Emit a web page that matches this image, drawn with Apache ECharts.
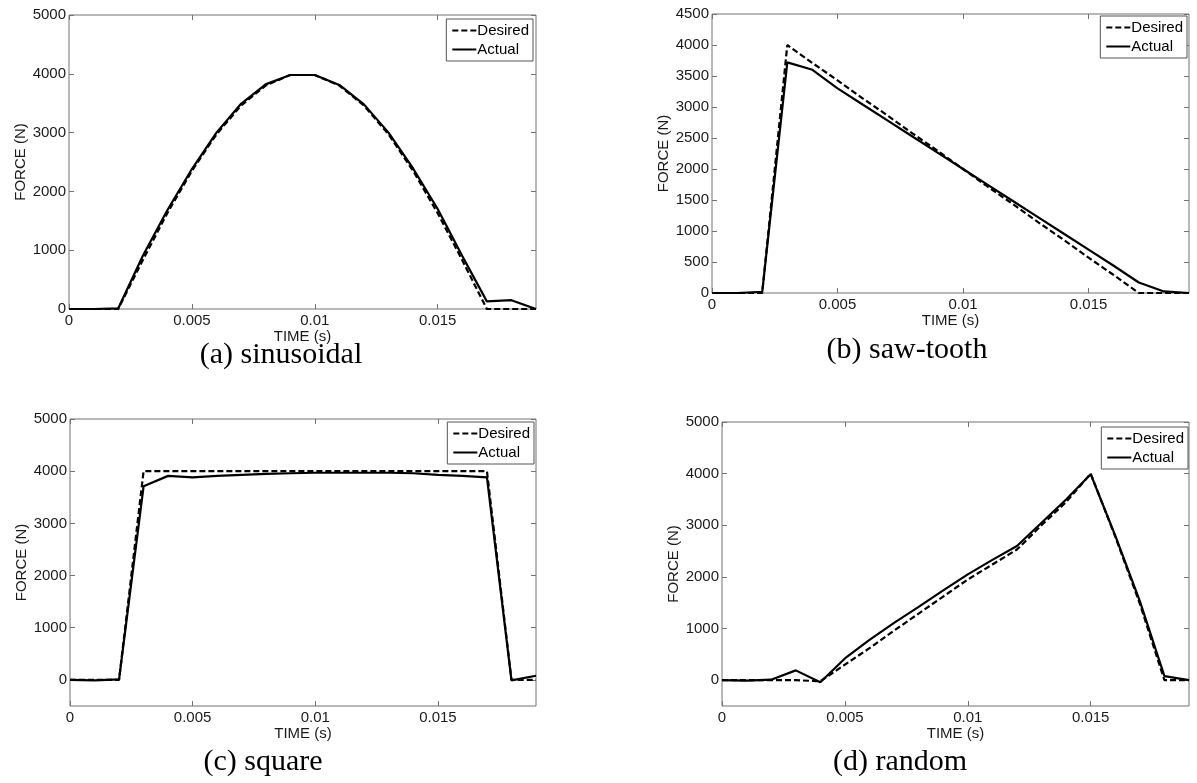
<!DOCTYPE html>
<html>
<head>
<meta charset="utf-8">
<script src="https://cdn.jsdelivr.net/npm/echarts@6/dist/echarts.min.js"></script>
<style>
  html, body { margin: 0; padding: 0; background: #fff; }
  #main { width: 1197px; height: 783px; }
</style>
</head>
<body>
<div id="main"></div>
<script>
// 時間軸 (s)
var TIME = [0, 0.001, 0.002, 0.003, 0.004, 0.005, 0.006, 0.007, 0.008, 0.009,
            0.010, 0.011, 0.012, 0.013, 0.014, 0.015, 0.016, 0.017, 0.018, 0.019];
var TIME_TICKS = [0, 0.005, 0.01, 0.015];

// (a) sinusoidal
var SIN_DESIRED = [0, 0, 0, 830, 1630, 2350, 2970, 3460, 3800, 3980, 3980, 3800, 3460, 2970, 2350, 1630, 830, 0, 0, 0];
var SIN_ACTUAL  = [0, 0, 10, 900, 1680, 2380, 3000, 3490, 3820, 3980, 3980, 3810, 3480, 3000, 2390, 1700, 900, 130, 150, 0];
// (b) saw-tooth
var SAW_DESIRED = [0, 0, 0, 4000, 3710, 3430, 3140, 2860, 2570, 2290, 2000, 1710, 1430, 1140, 860, 570, 290, 0, 0, 0];
var SAW_ACTUAL  = [0, 0, 20, 3720, 3600, 3300, 3040, 2780, 2520, 2260, 2000, 1740, 1480, 1220, 960, 700, 440, 170, 25, 0];
// (c) square
var SQR_DESIRED = [0, 0, 0, 4000, 4000, 4000, 4000, 4000, 4000, 4000, 4000, 4000, 4000, 4000, 4000, 4000, 4000, 4000, 0, 0];
var SQR_ACTUAL  = [0, -10, 10, 3710, 3910, 3880, 3910, 3930, 3950, 3960, 3970, 3970, 3970, 3970, 3960, 3930, 3910, 3880, -10, 80];
// (d) random
var RND_DESIRED = [0, 0, 0, 0, -20, 300, 620, 960, 1290, 1620, 1950, 2240, 2530, 3000, 3450, 4000, 2780, 1480, 0, 0];
var RND_ACTUAL  = [0, -10, 10, 190, -40, 420, 780, 1110, 1420, 1740, 2050, 2330, 2600, 3050, 3500, 3990, 2800, 1530, 80, 0];

// 各子圖 y 軸刻度
var Y_TICKS_A = [0, 1000, 2000, 3000, 4000, 5000];
var Y_TICKS_B = [0, 500, 1000, 1500, 2000, 2500, 3000, 3500, 4000, 4500];
var Y_TICKS_CD = [0, 1000, 2000, 3000, 4000, 5000];

var CAPTIONS = ['(a) sinusoidal', '(b) saw-tooth', '(c) square', '(d) random'];

// 子圖版面
var panels = [
  { grid: { left: 69, top: 15, width: 467, height: 294 }, ymin: 0, ymax: 5000, yticks: Y_TICKS_A, xNameGap: 15,
    desired: SIN_DESIRED, actual: SIN_ACTUAL, legend: { right: 664, top: 19 }, cap: [281, 355] },
  { grid: { left: 712, top: 14, width: 477, height: 279 }, ymin: 0, ymax: 4500, yticks: Y_TICKS_B, xNameGap: 18,
    desired: SAW_DESIRED, actual: SAW_ACTUAL, legend: { right: 10, top: 16 }, cap: [907, 350] },
  { grid: { left: 70, top: 419, width: 466, height: 287 }, ymin: -500, ymax: 5000, yticks: Y_TICKS_CD, xNameGap: 18,
    desired: SQR_DESIRED, actual: SQR_ACTUAL, legend: { right: 663, top: 422 }, cap: [263, 762] },
  { grid: { left: 722, top: 422, width: 467, height: 284 }, ymin: -500, ymax: 5000, yticks: Y_TICKS_CD, xNameGap: 18,
    desired: RND_DESIRED, actual: RND_ACTUAL, legend: { right: 9, top: 427 }, cap: [900, 762] }
];

var FRAME = '#737373';
var FONT = 'Liberation Sans';

function pairs(ys) {
  var out = [];
  for (var i = 0; i < TIME.length; i++) out.push([TIME[i], ys[i]]);
  return out;
}

var chart = echarts.init(document.getElementById('main'), null, { renderer: 'canvas' });

var grids = [], xAxes = [], yAxes = [], series = [], legends = [], texts = [];
for (var i = 0; i < panels.length; i++) {
  var p = panels[i];
  grids.push(Object.assign({ show: true, borderColor: FRAME, borderWidth: 1, backgroundColor: '#fff' }, p.grid));
  // 下方 x 軸
  xAxes.push({
    gridIndex: i, type: 'value', min: 0, max: 0.019, position: 'bottom',
    name: 'TIME (s)', nameLocation: 'middle', nameGap: p.xNameGap,
    nameTextStyle: { fontFamily: FONT, fontSize: 15, color: '#1a1a1a' },
    axisLine: { show: false, onZero: false },
    axisTick: { show: true, inside: true, length: 5, lineStyle: { color: FRAME }, customValues: TIME_TICKS },
    axisLabel: { show: true, margin: 4, fontFamily: FONT, fontSize: 15, color: '#1a1a1a', customValues: TIME_TICKS,
                 formatter: function (v) { return String(parseFloat(v.toFixed(3))); } },
    splitLine: { show: false }
  });
  // 上方鏡像 x 軸
  xAxes.push({
    gridIndex: i, type: 'value', min: 0, max: 0.019, position: 'top',
    axisLine: { show: false, onZero: false },
    axisTick: { show: true, inside: true, length: 5, lineStyle: { color: FRAME }, customValues: TIME_TICKS },
    axisLabel: { show: false }, splitLine: { show: false }
  });
  yAxes.push({
    gridIndex: i, type: 'value', min: p.ymin, max: p.ymax, position: 'left',
    name: 'FORCE (N)', nameLocation: 'middle', nameGap: 39, nameRotate: 90,
    nameTextStyle: { fontFamily: FONT, fontSize: 15, color: '#1a1a1a' },
    axisLine: { show: false, onZero: false },
    axisTick: { show: true, inside: true, length: 5, lineStyle: { color: FRAME }, customValues: p.yticks },
    axisLabel: { show: true, margin: 3, fontFamily: FONT, fontSize: 15, color: '#1a1a1a', customValues: p.yticks,
                 formatter: function (v) { return String(v); } },
    splitLine: { show: false }
  });
  yAxes.push({
    gridIndex: i, type: 'value', min: p.ymin, max: p.ymax, position: 'right',
    axisLine: { show: false, onZero: false },
    axisTick: { show: true, inside: true, length: 5, lineStyle: { color: FRAME }, customValues: p.yticks },
    axisLabel: { show: false }, splitLine: { show: false }
  });
  series.push({
    name: 'Actual', type: 'line', xAxisIndex: i * 2, yAxisIndex: i * 2,
    symbol: 'circle', showSymbol: false, data: pairs(p.actual),
    lineStyle: { color: '#000', width: 2.2, type: 'solid' }, itemStyle: { color: '#000' }
  });
  series.push({
    name: 'Desired', type: 'line', xAxisIndex: i * 2, yAxisIndex: i * 2,
    symbol: 'circle', showSymbol: false, data: pairs(p.desired),
    lineStyle: { color: '#000', width: 2.2, type: [6, 3] }, itemStyle: { color: '#000' }
  });
  legends.push({
    data: ['Desired', 'Actual'], orient: 'vertical',
    right: p.legend.right, top: p.legend.top,
    backgroundColor: '#fff', borderColor: '#555', borderWidth: 1,
    padding: [4, 4, 4, 5], itemGap: 4, itemWidth: 24, itemHeight: 15,
    itemStyle: { opacity: 0 },
    textStyle: { fontFamily: FONT, fontSize: 15, color: '#000', padding: [0, 0, 0, -4] },
    selectedMode: false
  });
  texts.push({
    type: 'text', x: p.cap[0], y: p.cap[1],
    style: { text: CAPTIONS[i], font: '30px "Liberation Serif"', fill: '#000', align: 'center', verticalAlign: 'middle' }
  });
}

var option = {
  animation: false,
  backgroundColor: '#fff',
  grid: grids,
  xAxis: xAxes,
  yAxis: yAxes,
  legend: legends,
  series: series,
  graphic: texts
};
chart.setOption(option);
</script>
</body>
</html>
